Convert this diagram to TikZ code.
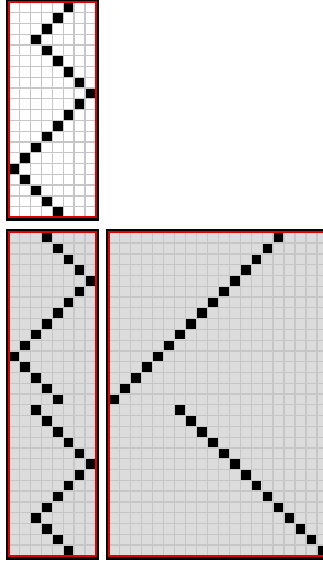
\documentclass[tikz,border=0pt]{standalone}
\usetikzlibrary{positioning}
\definecolor{gridgray}{HTML}{C6C6C6}
\definecolor{cellgray}{HTML}{DCDCDC}
\definecolor{framered}{HTML}{E00000}

\begin{document}
\begin{tikzpicture}[
    x=0.025cm, y=-0.025cm,
    frame/.style={fill=black},
    gridline/.style={draw=gridgray, line width=0.9pt},
    edge/.style={draw=framered, line width=1.4pt},
    stitch/.style={fill=black}
]
\useasboundingbox[fill=white] (0,0) rectangle (323,562);
\clip (0,0) rectangle (323,562);

% Frames
\fill[frame] (6.3,-1.5) rectangle (98.8,220.5);
\fill[frame] (6.3,229.2) rectangle (98.8,559.5);
\fill[frame] (106,229.2) rectangle (330,559.5);

% Top panel
\begin{scope}[shift={(9,1.8)}, x=0.271cm, y=-0.2695cm]
\fill[white] (0,0) rectangle (8,20);
\foreach \i in {1,...,7} \draw[gridline] (\i,0) -- (\i,20);
\foreach \j in {1,...,19} \draw[gridline] (0,\j) -- (8,\j);
\foreach \c [count=\r from 0] in {5,4,3,2,3,4,5,6,7,6,5,4,3,2,1,0,1,2,3,4}
    \fill[stitch] (\c+0.06,\r+0.06) rectangle (\c+0.94,\r+0.94);
\draw[edge] (0,0) rectangle (8,20);
\end{scope}

% Bottom left panel
\begin{scope}[shift={(9,232.3)}, x=0.271cm, y=-0.2695cm]
\fill[cellgray] (0,0) rectangle (8,30);
\foreach \i in {1,...,7} \draw[gridline] (\i,0) -- (\i,30);
\foreach \j in {1,...,29} \draw[gridline] (0,\j) -- (8,\j);
\foreach \c [count=\r from 0] in {3,4,5,6,7,6,5,4,3,2,1,0,1,2,3,4,2,3,4,5,6,7,6,5,4,3,2,3,4,5}
    \fill[stitch] (\c+0.06,\r+0.06) rectangle (\c+0.94,\r+0.94);
\draw[edge] (0,0) rectangle (8,30);
\end{scope}

% Bottom right panel
\begin{scope}[shift={(108.8,232.3)}, x=0.27375cm, y=-0.2695cm]
\fill[cellgray] (0,0) rectangle (21,30);
\foreach \i in {1,...,20} \draw[gridline] (\i,0) -- (\i,30);
\foreach \j in {1,...,29} \draw[gridline] (0,\j) -- (21,\j);
\foreach \c [count=\r from 0] in {15,14,13,12,11,10,9,8,7,6,5,4,3,2,1,0,6,7,8,9,10,11,12,13,14,15,16,17,18,19}
    \fill[stitch] (\c+0.06,\r+0.06) rectangle (\c+0.94,\r+0.94);
\draw[edge] (0,0) rectangle (21,30);
\end{scope}

\end{tikzpicture}
\end{document}
